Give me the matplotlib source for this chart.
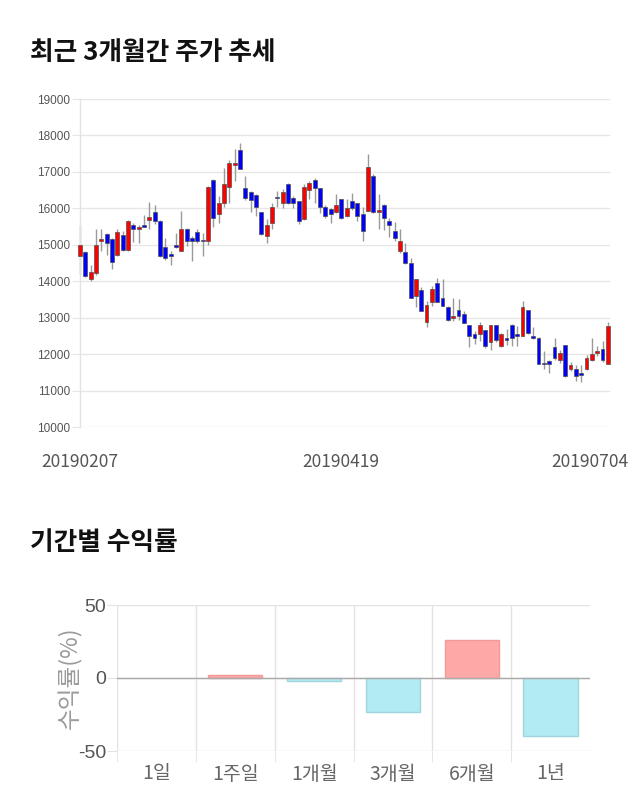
import numpy as np
import matplotlib
matplotlib.use("Agg")
import matplotlib.pyplot as plt
import matplotlib.transforms as mtransforms

plt.rcParams['font.family'] = ['Noto Sans CJK KR', 'DejaVu Sans']

# ---------------- data ----------------
opens = [14690, 14810, 14050, 14230, 15090, 15300, 15150, 14730, 15260, 14870,
         15550, 15440, 15550, 15690, 15900, 15640, 14950, 14740, 15000, 14830,
         15440, 15190, 15340, 15110, 15090, 16790, 15850, 16150, 16590, 17190,
         17600, 16550, 16450, 16360, 15900, 15240, 15590, 16290, 16140, 16660,
         16290, 16190, 15700, 16490, 16790, 16550, 16050, 15990, 15900, 16250,
         15790, 16190, 16150, 15840, 15940, 16900, 15900, 16100, 15650, 15390,
         14830, 14800, 14490, 13590, 13750, 12890, 13440, 13940, 13550, 13300,
         12980, 13200, 13090, 12790, 12550, 12540, 12650, 12340, 12790, 12230,
         12450, 12790, 12550, 12490, 13200, 12510, 12450, 11760, 11800, 12200,
         11830, 12240, 11590, 11590, 11470, 11590, 11830, 12030, 12140, 11740]
highs = [15540, 14840, 14450, 15440, 15440, 15330, 15190, 15440, 15370, 15680,
         15600, 15530, 15830, 16180, 16090, 15670, 15190, 14840, 15310, 15930,
         15450, 15240, 15440, 15310, 16600, 16810, 16340, 17100, 17320, 17640,
         17800, 16890, 16480, 16380, 15900, 15700, 16140, 16470, 16530, 16700,
         16340, 16190, 16660, 16750, 16840, 16550, 16080, 16000, 16380, 16260,
         16250, 16430, 16160, 16050, 17500, 16930, 16380, 16110, 15740, 15620,
         15440, 15040, 14640, 14050, 13850, 13450, 13860, 14090, 14050, 13310,
         13550, 13500, 13180, 12800, 12630, 12870, 12650, 12810, 12810, 12580,
         12690, 12830, 12760, 13450, 13220, 12750, 12470, 12080, 11850, 12450,
         12110, 12250, 11780, 11710, 11710, 11980, 12450, 12230, 12350, 12870]
lows = [14190, 14120, 14000, 14180, 14830, 14730, 14340, 14690, 14830, 14830,
        15080, 15040, 15510, 15420, 15580, 14670, 14580, 14450, 14910, 14830,
        14960, 14550, 15060, 14690, 14990, 15500, 15600, 16050, 16150, 16750,
        17080, 16230, 15900, 15780, 15280, 15060, 15440, 16040, 16010, 16110,
        16020, 15560, 15680, 16250, 16150, 15860, 15740, 15600, 15860, 15700,
        15770, 15950, 15650, 15100, 15920, 15880, 15440, 15400, 15220, 15100,
        14780, 14460, 13530, 13300, 13180, 12750, 13330, 13420, 13330, 12920,
        12900, 12930, 12840, 12200, 12290, 12350, 12170, 12120, 12330, 12200,
        12260, 12230, 12230, 12490, 12540, 12420, 11730, 11590, 11480, 11850,
        11760, 11380, 11530, 11250, 11230, 11560, 11800, 11940, 11780, 11740]
closes = [14990, 14140, 14250, 15000, 15150, 15040, 14540, 15350, 14870, 15640,
          15430, 15500, 15480, 15750, 15640, 14690, 14630, 14700, 14940, 15440,
          15100, 15100, 15100, 15090, 16590, 15740, 16140, 16660, 17250, 17250,
          17090, 16290, 16240, 16050, 15300, 15550, 16050, 16280, 16450, 16140,
          16140, 15640, 16590, 16700, 16550, 16050, 15790, 15850, 16100, 15740,
          16000, 16000, 15790, 15390, 17140, 15900, 15950, 15740, 15540, 15190,
          15090, 14500, 13530, 14050, 13180, 13340, 13800, 13440, 13330, 12930,
          13040, 13040, 12840, 12490, 12450, 12790, 12230, 12790, 12380, 12540,
          12380, 12450, 12490, 13300, 12580, 12450, 11740, 11720, 11740, 11900,
          12030, 11390, 11690, 11390, 11440, 11890, 11990, 12090, 11830, 12760]
date_labels = ["20190207", "20190419", "20190704"]
date_label_idx = [0, 49, 99]

periods = ["1일", "1주일", "1개월", "3개월", "6개월", "1년"]
returns = [0.0, 1.8, -2.3, -23.0, 25.7, -40.0]

# ---------------- figure ----------------
fig = plt.figure(figsize=(6.4, 8.1), dpi=100)
fig.patch.set_facecolor("white")

fig.text(30 / 640, 1 - 52 / 810, "최근 3개월간 주가 추세", fontsize=18.5,
         fontweight="bold", ha="left", va="center", color="#111111")
fig.text(30 / 640, 1 - 543 / 810, "기간별 수익률", fontsize=18.5,
         fontweight="bold", ha="left", va="center", color="#111111")

# ---- candlestick axes ----
ax = fig.add_axes([80 / 640, 1 - 427 / 810, 530 / 640, 328 / 810])
o = np.array(opens, float)
h = np.array(highs, float)
l = np.array(lows, float)
c = np.array(closes, float)
x = np.arange(len(o))
up = c >= o
cols = np.where(up, "#ff0000", "#0000ff")
bottoms = np.minimum(o, c)
heights = np.maximum(np.abs(c - o), 28)

ax.vlines(x, l, h, color="#9a9a9a", linewidth=1.0, zorder=2, clip_on=False)
ax.bar(x, heights, bottom=bottoms, width=0.72, color=cols,
       edgecolor="#505050", linewidth=0.5, zorder=3, clip_on=False)

ax.set_xlim(0, 99.4)
ax.set_ylim(10000, 19000)
ax.set_yticks(np.arange(10000, 19001, 1000))
ax.yaxis.grid(True, color="#e6e6e6", linewidth=1.0)
ax.set_axisbelow(True)
for s in ["top", "right", "bottom"]:
    ax.spines[s].set_visible(False)
ax.spines["left"].set_color("#e3e3e3")
ax.spines["left"].set_linewidth(1.0)
ax.tick_params(axis="y", length=6, color="#e6e6e6", labelsize=8.5,
               labelcolor="#555555", pad=1)
for lab in ax.get_yticklabels():
    lab.set_fontfamily(["Liberation Sans", "DejaVu Sans"])
ax.set_xticks(date_label_idx)
ax.set_xticklabels(date_labels)
ax.tick_params(axis="x", length=0, labelsize=12.5, labelcolor="#555555", pad=19)
xl = ax.get_xticklabels()
off = mtransforms.ScaledTranslation(-18 / 100, 0, fig.dpi_scale_trans)
xl[-1].set_transform(xl[-1].get_transform() + off)

# ---- returns bar axes ----
bx = fig.add_axes([117 / 640, 1 - 751 / 810, 473 / 640, 146 / 810])
r = np.array(returns)
bcols = np.where(r >= 0, "#ffa8a8", "#b3ebf3")
ecols = np.where(r >= 0, "#f29a9a", "#9fd6de")
lws = np.where(r == 0, 0.0, 1.0)
bx.bar(np.arange(len(r)), r, width=0.69, color=bcols, edgecolor=ecols,
       linewidth=lws, zorder=3)
bx.axhline(0, color="#aaaaaa", linewidth=1.0, zorder=4)
bx.set_xlim(-0.5, 5.5)
bx.set_ylim(-50, 50)
bx.set_yticks([-50, 0, 50])
bx.set_yticklabels(["-50", "0", "50"])
bx.yaxis.grid(True, color="#e3e3e3", linewidth=1.0)
bx.set_xticks(np.arange(len(r)))
bx.set_xticklabels(periods)
bx.set_xticks(np.arange(-0.5, 5.0, 1.0), minor=True)
bx.xaxis.grid(True, which="minor", color="#e3e3e3", linewidth=1.0)
bx.set_axisbelow(True)
for s in ["top", "right", "bottom", "left"]:
    bx.spines[s].set_visible(False)
bx.tick_params(axis="x", which="major", length=0, labelsize=14,
               labelcolor="#666666", pad=9)
bx.tick_params(axis="x", which="minor", length=8, color="#e3e3e3")
bx.tick_params(axis="y", length=7, color="#e3e3e3", labelsize=14,
               labelcolor="#555555", pad=1)
for lab in bx.get_yticklabels():
    lab.set_fontfamily(["Liberation Sans", "DejaVu Sans"])
bx.set_ylabel("수익률(%)", fontsize=17, color="#9a9a9a", labelpad=-3,
              fontweight="light")

fig.savefig("out.png", dpi=100, facecolor="white")
